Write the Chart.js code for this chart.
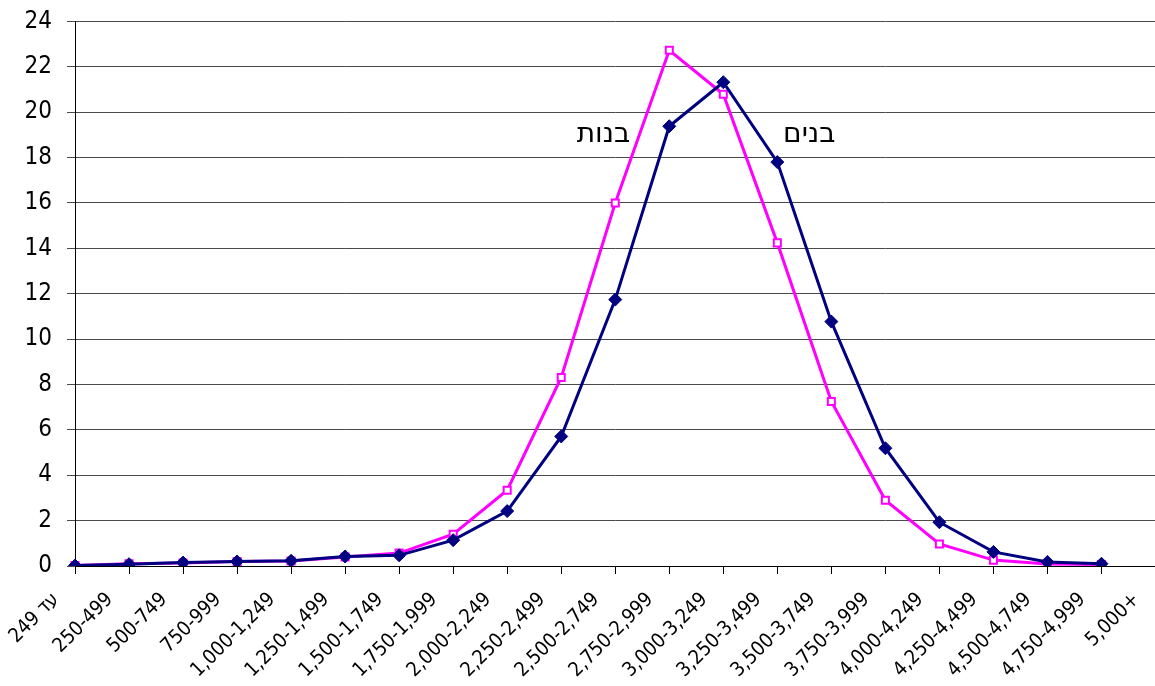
<!DOCTYPE html>
<html>
<head>
<meta charset="utf-8">
<script src="https://cdn.jsdelivr.net/npm/chart.js@4/dist/chart.umd.min.js"></script>
<style>
  html, body { margin: 0; padding: 0; background: #fff; overflow: hidden; }
  body { width: 1155px; height: 686px; position: relative; }
  #wrap { position: absolute; left: 0; top: -8px; width: 1163px; height: 694px; }
</style>
</head>
<body>
<div id="wrap"><canvas id="weightChart"></canvas></div>
<script>
// birth weight groups (grams)
const categories = [
  '\u202Bעד 249\u202C', '250-499', '500-749', '750-999', '1,000-1,249', '1,250-1,499',
  '1,500-1,749', '1,750-1,999', '2,000-2,249', '2,250-2,499', '2,500-2,749',
  '2,750-2,999', '3,000-3,249', '3,250-3,499', '3,500-3,749', '3,750-3,999',
  '4,000-4,249', '4,250-4,499', '4,500-4,749', '4,750-4,999', '5,000+'
];

// percent of births - boys (בנים)
const boys = [0.02, 0.08, 0.15, 0.2, 0.23, 0.42, 0.47, 1.14, 2.42, 5.71, 11.74,
  19.38, 21.32, 17.8, 10.77, 5.19, 1.93, 0.62, 0.18, 0.1, null];

// percent of births - girls (בנות)
const girls = [0.02, 0.1, 0.13, 0.2, 0.22, 0.4, 0.57, 1.4, 3.34, 8.31, 16.0,
  22.73, 20.79, 14.24, 7.25, 2.9, 0.97, 0.26, 0.09, 0.07, null];

const yMax = 24;
const yStep = 2;

// in-chart series names: text, category index, value
const seriesNames = [
  { text: 'בנות', at: 9.78, value: 19.0 },
  { text: 'בנים', at: 13.59, value: 19.0 }
];

const FONT = '"DejaVu Sans Condensed", "DejaVu Sans", sans-serif';

const seriesNamePlugin = {
  id: 'seriesNames',
  afterDatasetsDraw(chart) {
    const { ctx, scales } = chart;
    ctx.save();
    ctx.font = '28px "DejaVu Sans", sans-serif';
    ctx.fillStyle = '#000';
    ctx.textAlign = 'center';
    ctx.textBaseline = 'middle';
    seriesNames.forEach(n => {
      ctx.fillText(n.text, scales.x.getPixelForValue(n.at), scales.y.getPixelForValue(n.value));
    });
    ctx.restore();
  }
};

new Chart(document.getElementById('weightChart'), {
  type: 'line',
  data: {
    labels: categories,
    datasets: [
      {
        label: 'בנים',
        data: boys,
        borderColor: '#000080',
        backgroundColor: '#000080',
        borderWidth: 3,
        pointStyle: 'rectRot',
        pointRadius: 6.5,
        pointBorderWidth: 1,
        pointBackgroundColor: '#000080',
        tension: 0
      },
      {
        label: 'בנות',
        data: girls,
        borderColor: '#ff00ff',
        backgroundColor: '#ffffff',
        borderWidth: 3,
        pointStyle: 'rect',
        pointRadius: 5,
        pointBorderWidth: 2,
        pointBackgroundColor: '#ffffff',
        tension: 0
      }
    ]
  },
  options: {
    responsive: true,
    maintainAspectRatio: false,
    animation: false,
    devicePixelRatio: 1,
    layout: { padding: 0 },
    plugins: {
      legend: { display: false },
      tooltip: { enabled: false }
    },
    scales: {
      x: {
        offset: false,
        grid: { drawOnChartArea: false, drawTicks: true, tickLength: 8, color: '#000' },
        border: { color: '#000', width: 1 },
        ticks: {
          autoSkip: false,
          minRotation: 45,
          maxRotation: 45,
          padding: 14,
          labelOffset: -19,
          color: '#000',
          font: { family: FONT, size: 20 }
        },
        afterFit: scale => { scale.height = 120; scale.paddingRight = 0; }
      },
      y: {
        min: 0,
        max: yMax,
        grid: { color: '#4a4a4a', tickLength: 8, lineWidth: 1 },
        border: { color: '#000', width: 1 },
        ticks: {
          stepSize: yStep,
          padding: 15,
          color: '#000',
          font: { family: FONT, size: 24 }
        },
        afterFit: scale => { scale.width = 75; }
      }
    }
  },
  plugins: [seriesNamePlugin]
});
</script>
</body>
</html>
